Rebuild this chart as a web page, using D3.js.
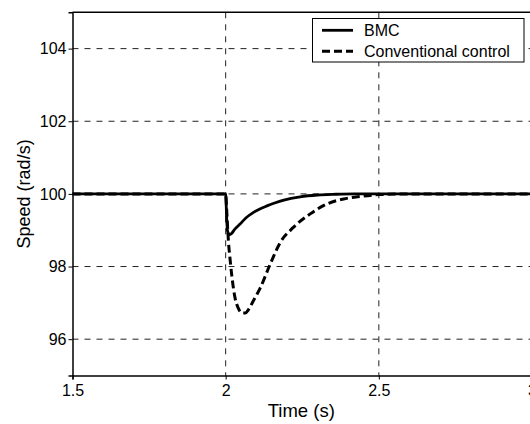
<!DOCTYPE html>
<html>
<head>
<meta charset="utf-8">
<script src="https://cdn.jsdelivr.net/npm/d3@7"></script>
<style>
  body { margin: 0; background: #fff; }
  text { font-family: Arial, "Liberation Sans", sans-serif; fill: #000; }
</style>
</head>
<body>
<div id="chart"></div>
<script>
// data
var bmcTime = [1.5, 2.0, 2.003, 2.006, 2.012, 2.018, 2.03, 2.047, 2.065, 2.091, 2.11, 2.135, 2.16, 2.19, 2.243, 2.30, 2.36, 2.42, 2.5, 3.0];
var bmcSpeed = [100, 100, 99.4, 98.98, 98.88, 98.9, 99.03, 99.17, 99.33, 99.49, 99.58, 99.67, 99.75, 99.83, 99.92, 99.97, 99.99, 100, 100, 100];

var convTime = [1.5, 2.0, 2.003, 2.009, 2.015, 2.02, 2.031, 2.042, 2.053, 2.064, 2.075, 2.09, 2.113, 2.145, 2.178, 2.22, 2.276, 2.33, 2.385, 2.44, 2.5, 2.6, 3.0];
var convSpeed = [100, 100, 99.6, 98.7, 98.15, 97.75, 97.12, 96.84, 96.72, 96.72, 96.82, 97.05, 97.41, 98.06, 98.66, 99.07, 99.45, 99.72, 99.86, 99.93, 99.98, 100, 100];

var xTicks = [1.5, 2, 2.5, 3];
var yTicks = [96, 98, 100, 102, 104];
var seriesNames = ["BMC", "Conventional control"];

var svgWidth = 530;
var svgHeight = 424;

var margin = { top: 12.3, right: -2, bottom: 48.5, left: 72.5 };
var width = svgWidth - margin.left - margin.right;
var height = svgHeight - margin.top - margin.bottom;

var svg = d3.select("#chart")
  .append("svg")
  .attr("width", svgWidth)
  .attr("height", svgHeight);

var chartGroup = svg.append("g")
  .attr("transform", `translate(${margin.left}, ${margin.top})`);

// scales
var xScale = d3.scaleLinear().domain([1.5, 3]).range([0, width]);
var yScale = d3.scaleLinear().domain([95, 105]).range([height, 0]);

// grid lines
chartGroup.selectAll(".ygrid")
  .data(yTicks)
  .enter()
  .append("line")
  .attr("x1", 0)
  .attr("x2", width)
  .attr("y1", d => yScale(d))
  .attr("y2", d => yScale(d))
  .attr("stroke", "#222")
  .attr("stroke-width", 1)
  .attr("stroke-dasharray", "6,6");

chartGroup.selectAll(".xgrid")
  .data(xTicks.slice(1))
  .enter()
  .append("line")
  .attr("x1", d => xScale(d))
  .attr("x2", d => xScale(d))
  .attr("y1", 0)
  .attr("y2", height)
  .attr("stroke", "#222")
  .attr("stroke-width", 1)
  .attr("stroke-dasharray", "6,6");

// axes
var bottomAxis = d3.axisBottom(xScale).tickValues(xTicks).tickSize(4).tickPadding(5).tickFormat(d3.format("~g"));
var leftAxis = d3.axisLeft(yScale).tickValues(yTicks).tickSize(4).tickPadding(2);

var xAxisG = chartGroup.append("g")
  .attr("transform", `translate(0, ${height})`)
  .call(bottomAxis);

var yAxisG = chartGroup.append("g")
  .call(leftAxis);

[xAxisG, yAxisG].forEach(function(g) {
  g.select(".domain").attr("stroke", "#000").attr("stroke-width", 1.5);
  g.selectAll(".tick line").attr("stroke", "#000");
  g.selectAll("text").attr("font-size", 16).attr("font-family", "Arial, 'Liberation Sans', sans-serif").attr("fill", "#000");
});

// top border
chartGroup.append("line")
  .attr("x1", 0).attr("x2", width)
  .attr("y1", 0).attr("y2", 0)
  .attr("stroke", "#000").attr("stroke-width", 1.5);

// lines
var line = d3.line()
  .x(d => xScale(d[0]))
  .y(d => yScale(d[1]))
  .curve(d3.curveMonotoneX);

var bmcData = bmcTime.map((t, i) => [t, bmcSpeed[i]]);
var convData = convTime.map((t, i) => [t, convSpeed[i]]);

chartGroup.append("path")
  .datum(convData)
  .attr("d", line)
  .attr("fill", "none")
  .attr("stroke", "#000")
  .attr("stroke-width", 3)
  .attr("stroke-dasharray", "8,4");

chartGroup.append("path")
  .datum(bmcData)
  .attr("d", line)
  .attr("fill", "none")
  .attr("stroke", "#000")
  .attr("stroke-width", 2.8);

// axis labels
svg.append("text")
  .attr("transform", `translate(${margin.left + (xScale(3) - xScale(1.5)) / 2 - 1}, 417)`)
  .attr("text-anchor", "middle")
  .attr("font-size", 18.5)
  .text("Time (s)");

svg.append("text")
  .attr("transform", `translate(30, ${margin.top + yScale(100)}) rotate(-90)`)
  .attr("text-anchor", "middle")
  .attr("font-size", 18)
  .text("Speed (rad/s)");

// legend
var legend = svg.append("g");
legend.append("rect")
  .attr("x", 312.5).attr("y", 18.5)
  .attr("width", 211.5).attr("height", 43.5)
  .attr("fill", "#fff").attr("stroke", "#000").attr("stroke-width", 1);

seriesNames.forEach(function(name, i) {
  var ly = 30.3 + i * 21;
  legend.append("line")
    .attr("x1", 322).attr("x2", 353)
    .attr("y1", ly).attr("y2", ly)
    .attr("stroke", "#000")
    .attr("stroke-width", i == 0 ? 2.8 : 3)
    .attr("stroke-dasharray", i == 0 ? null : "8,4");
  legend.append("text")
    .attr("x", 364).attr("y", ly + 5.8)
    .attr("font-size", 16)
    .text(name);
});
</script>
</body>
</html>
